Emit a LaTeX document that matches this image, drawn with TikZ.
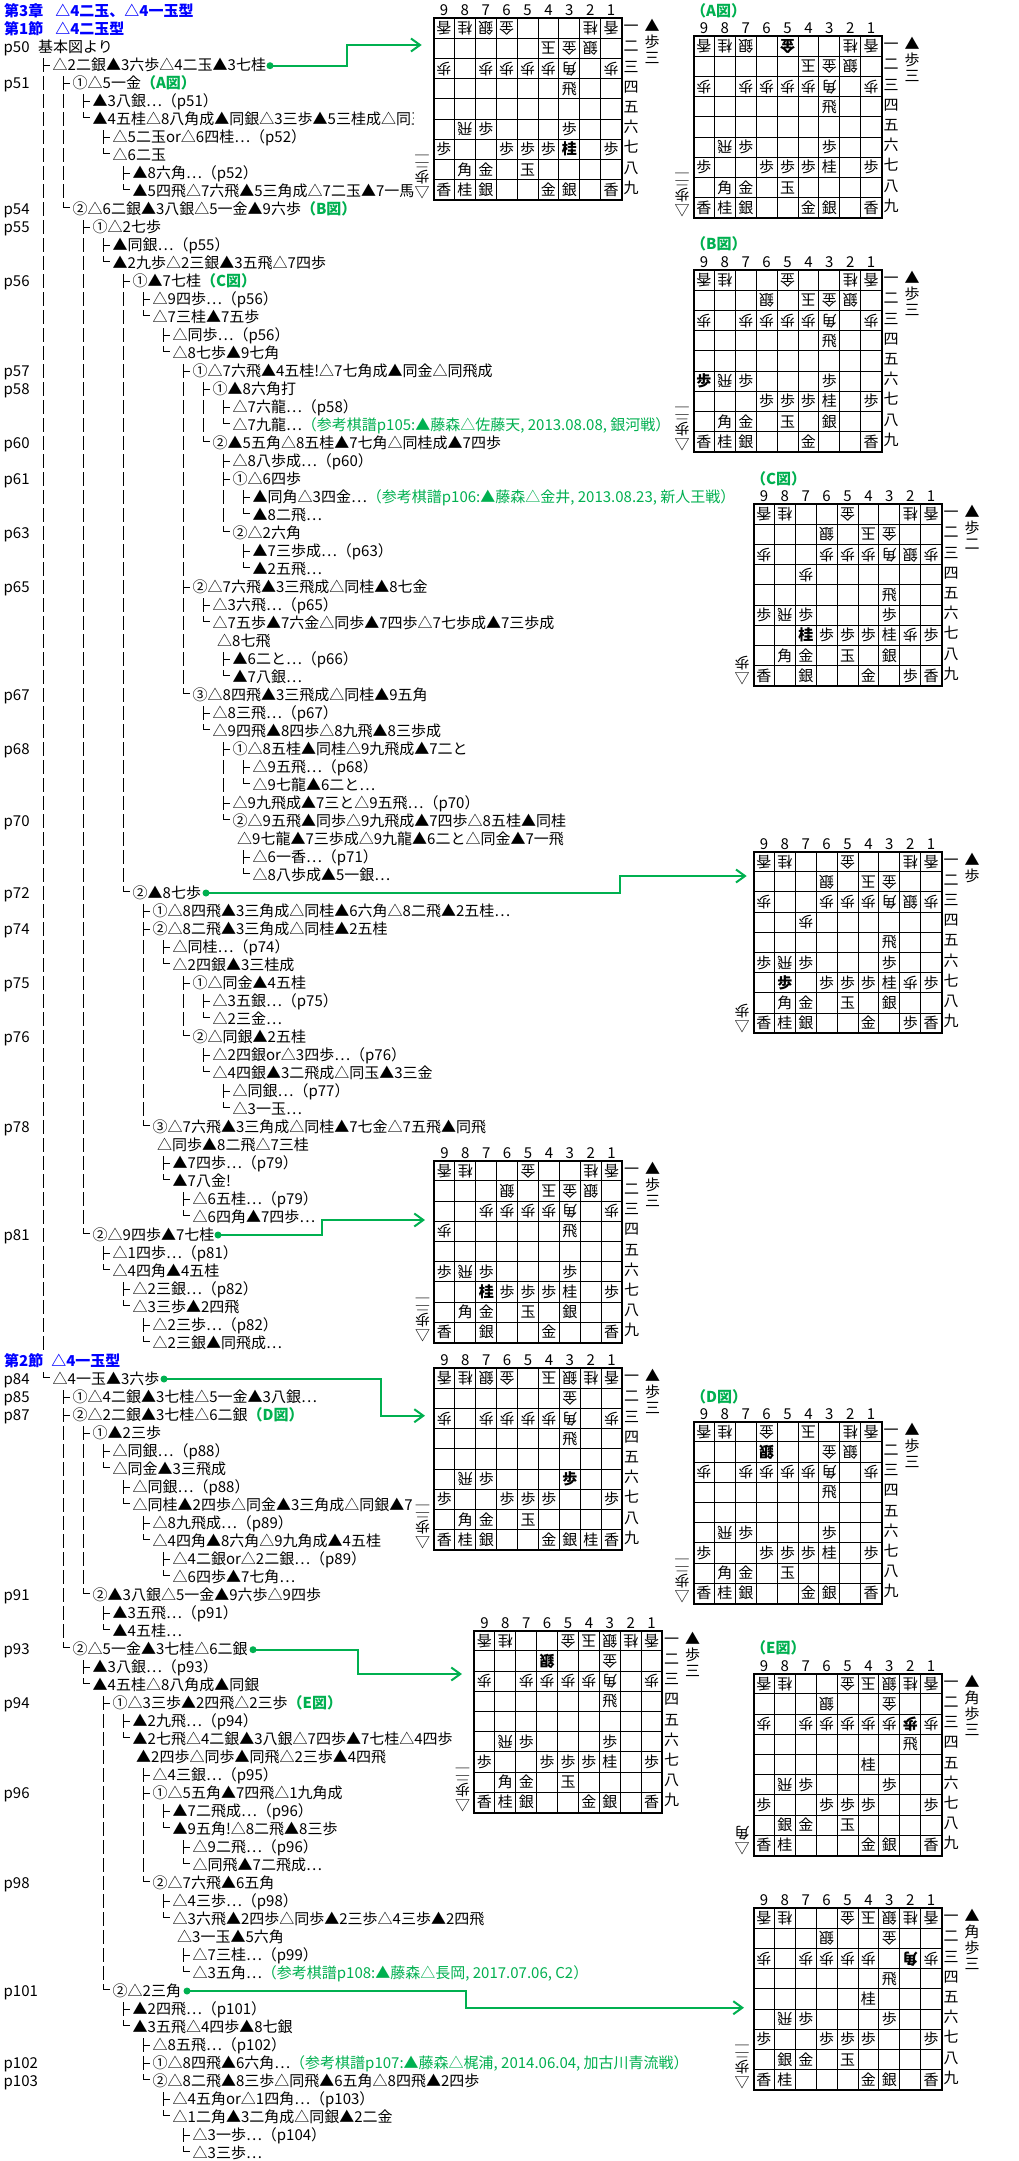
\documentclass[tikz,border=0pt]{standalone}
\usepackage{fontspec}
\setmainfont{Noto Sans CJK JP}
\usetikzlibrary{arrows.meta}
\definecolor{gr}{HTML}{00B050}
\newcounter{bd}
\tikzset{
 tx/.style={anchor=base west,inner sep=0pt,font=\fontsize{15}{15}\selectfont},
 pgl/.style={tx},
 hd/.style={tx,text=blue,font=\fontsize{15}{15}\selectfont\bfseries},
 tr/.style={line width=1pt},
 bar/.style={line width=1pt,dash pattern=on 14pt off 4pt},
 lab/.style={inner sep=0pt,text height=13pt,text depth=2pt,font=\fontsize{15}{15}\selectfont},
 ps/.style={lab},
 pb/.style={lab,font=\fontsize{15}{15}\selectfont\bfseries},
 pg/.style={lab,rotate=180},
 pgb/.style={lab,rotate=180,font=\fontsize{15}{15}\selectfont\bfseries},
 gridl/.style={line width=1pt},
 frame/.style={line width=2pt},
 glink/.style={draw=gr,line width=2pt,-{Straight Barb[length=9pt,width=13pt]}},
 gdot/.style={circle,fill=gr,inner sep=0pt,minimum size=7pt},
 captxt/.style={tx,text=gr,font=\fontsize{15}{15}\selectfont\bfseries},
}
\newcommand\gt[1]{\textcolor{gr}{#1}}
\newcommand\gb[1]{\textcolor{gr}{\bfseries #1}}
\newcommand\sq[1]{\scalebox{1}[.5]{#1}}
% row helpers
\newcommand\Pg[2]{\node[pgl] (p#1) at (3.5,{11+18*#1+5.5}) {#2};}
\newcommand\Tx[3]{\node[tx] (r#1) at (#2,{11+18*#1+5.5}) {#3};}
\newcommand\Tt[3]{\node[tx] (r#1) at ({#2+9},{11+18*#1+5.5}) {#3};
 \draw[tr] (#2,{11+18*#1-7}) -- (#2,{11+18*#1+7});
 \draw[tr] (#2,{11+18*#1}) -- ([shift={(-3,-5.5)}]r#1.base west);}
\newcommand\Lt[3]{\node[tx] (r#1) at ({#2+9},{11+18*#1+5.5}) {#3};
 \draw[tr] (#2,{11+18*#1-7}) -- (#2,{11+18*#1-2}) -- ([shift={(-3,-7.5)}]r#1.base west);}
\newcommand\Vb[3]{\draw[bar] (#1,{11+18*#2-7}) -- (#1,{11+18*#3+7});}
% board
\newcommand\pcs[2]{\foreach \c/\r/\k in {#2} \node[#1] at ({(9-\c+0.5)*20.9},{(\r-0.5)*20.2}) {\k};}
\newcommand\brd[5]{\stepcounter{bd}\begin{scope}[shift={(#2,#3)}]
 \foreach \i in {1,...,8} {\draw[gridl] ({\i*20.9},0) -- ({\i*20.9},181.8); \draw[gridl] (0,{\i*20.2}) -- (188.1,{\i*20.2});}
 \draw[frame] (0,0) rectangle (188.1,181.8);
 \foreach \c [count=\i] in {9,8,7,6,5,4,3,2,1} \node[lab] (b\arabic{bd}c\c) at ({(\i-0.5)*20.9},-8) {\c};
 \foreach \k [count=\i] in {一,二,三,四,五,六,七,八,九} \node[lab] (b\arabic{bd}r\i) at (197.7,{(\i-0.5)*20.2-2}) {\k};
 \foreach \y/\k in {#4} \node[ps] at (218.5,\y) {\k};
 \foreach \y/\k in {#5} \node[pg] at (-11.5,\y) {\k};
 #1
 \end{scope}}
\begin{document}
\begin{tikzpicture}[x=1pt,y=-1pt]
\path[use as bounding box,fill=white] (0,0) rectangle (1018,2161);
% headings
\node[hd] (h0) at (4,16.5) {第3章\hspace{12pt}△4二玉、△4一玉型};
\node[hd] (h1) at (4,34.5) {第1節\hspace{12pt}△4二玉型};
\node[hd] (h2) at (4,1366.5) {第2節\hspace{8pt}△4一玉型};
% page labels
\Pg{2}{p50}\Pg{4}{p51}\Pg{11}{p54}\Pg{12}{p55}\Pg{15}{p56}\Pg{20}{p57}\Pg{21}{p58}\Pg{24}{p60}\Pg{26}{p61}\Pg{29}{p63}\Pg{32}{p65}\Pg{38}{p67}\Pg{41}{p68}\Pg{45}{p70}\Pg{49}{p72}\Pg{51}{p74}\Pg{54}{p75}\Pg{57}{p76}\Pg{62}{p78}\Pg{68}{p81}\Pg{76}{p84}\Pg{77}{p85}\Pg{78}{p87}\Pg{88}{p91}\Pg{91}{p93}\Pg{94}{p94}\Pg{99}{p96}\Pg{104}{p98}\Pg{110}{p101}\Pg{114}{p102}\Pg{115}{p103}
% tree
\Tx{2}{38}{基本図より}
\Tt{3}{43.5}{△2二銀▲3六歩△4二玉▲3七桂}
\Tt{4}{63.5}{①△5一金\gb{（A図）}}
\Tt{5}{83.5}{▲3八銀…（p51）}
\begin{scope}\clip (0,110) rectangle (413,128);
\Lt{6}{83.5}{▲4五桂△8八角成▲同銀△3三歩▲5三桂成△同玉}
\end{scope}
\Tt{7}{103.5}{△5二玉or△6四桂…（p52）}
\Lt{8}{103.5}{△6二玉}
\Tt{9}{123.5}{▲8六角…（p52）}
\begin{scope}\clip (0,182) rectangle (414,200);
\Lt{10}{123.5}{▲5四飛△7六飛▲5三角成△7二玉▲7一馬…}
\end{scope}
\Lt{11}{63.5}{②△6二銀▲3八銀△5一金▲9六歩\gb{（B図）}}
\Tt{12}{83.5}{①△2七歩}
\Tt{13}{103.5}{▲同銀…（p55）}
\Lt{14}{103.5}{▲2九歩△2三銀▲3五飛△7四歩}
\Tt{15}{123.5}{①▲7七桂\gb{（C図）}}
\Tt{16}{143.5}{△9四歩…（p56）}
\Lt{17}{143.5}{△7三桂▲7五歩}
\Tt{18}{163.5}{△同歩…（p56）}
\Lt{19}{163.5}{△8七歩▲9七角}
\Tt{20}{183.5}{①△7六飛▲4五桂!△7七角成▲同金△同飛成}
\Tt{21}{203.5}{①▲8六角打}
\Tt{22}{223.5}{△7六龍…（p58）}
\Lt{23}{223.5}{△7九龍…\gt{（参考棋譜p105:▲藤森△佐藤天, 2013.08.08, 銀河戦）}}
\Lt{24}{203.5}{②▲5五角△8五桂▲7七角△同桂成▲7四歩}
\Tt{25}{223.5}{△8八歩成…（p60）}
\Tt{26}{223.5}{①△6四歩}
\Tt{27}{243.5}{▲同角△3四金…\gt{（参考棋譜p106:▲藤森△金井, 2013.08.23, 新人王戦）}}
\Lt{28}{243.5}{▲8二飛…}
\Lt{29}{223.5}{②△2六角}
\Tt{30}{243.5}{▲7三歩成…（p63）}
\Lt{31}{243.5}{▲2五飛…}
\Tt{32}{183.5}{②△7六飛▲3三飛成△同桂▲8七金}
\Tt{33}{203.5}{△3六飛…（p65）}
\Lt{34}{203.5}{△7五歩▲7六金△同歩▲7四歩△7七歩成▲7三歩成}
\Tx{35}{217}{△8七飛}
\Tt{36}{223.5}{▲6二と…（p66）}
\Lt{37}{223.5}{▲7八銀…}
\Lt{38}{183.5}{③△8四飛▲3三飛成△同桂▲9五角}
\Tt{39}{203.5}{△8三飛…（p67）}
\Lt{40}{203.5}{△9四飛▲8四歩△8九飛▲8三歩成}
\Tt{41}{223.5}{①△8五桂▲同桂△9九飛成▲7二と}
\Tt{42}{243.5}{△9五飛…（p68）}
\Lt{43}{243.5}{△9七龍▲6二と…}
\Tt{44}{223.5}{△9九飛成▲7三と△9五飛…（p70）}
\Lt{45}{223.5}{②△9五飛▲同歩△9九飛成▲7四歩△8五桂▲同桂}
\Tx{46}{237}{△9七龍▲7三歩成△9九龍▲6二と△同金▲7一飛}
\Tt{47}{243.5}{△6一香…（p71）}
\Lt{48}{243.5}{△8八歩成▲5一銀…}
\Lt{49}{123.5}{②▲8七歩}
\Tt{50}{143.5}{①△8四飛▲3三角成△同桂▲6六角△8二飛▲2五桂…}
\Tt{51}{143.5}{②△8二飛▲3三角成△同桂▲2五桂}
\Tt{52}{163.5}{△同桂…（p74）}
\Lt{53}{163.5}{△2四銀▲3三桂成}
\Tt{54}{183.5}{①△同金▲4五桂}
\Tt{55}{203.5}{△3五銀…（p75）}
\Lt{56}{203.5}{△2三金…}
\Lt{57}{183.5}{②△同銀▲2五桂}
\Tt{58}{203.5}{△2四銀or△3四歩…（p76）}
\Lt{59}{203.5}{△4四銀▲3二飛成△同玉▲3三金}
\Tt{60}{223.5}{△同銀…（p77）}
\Lt{61}{223.5}{△3一玉…}
\Lt{62}{143.5}{③△7六飛▲3三角成△同桂▲7七金△7五飛▲同飛}
\Tx{63}{157}{△同歩▲8二飛△7三桂}
\Tt{64}{163.5}{▲7四歩…（p79）}
\Lt{65}{163.5}{▲7八金!}
\Tt{66}{183.5}{△6五桂…（p79）}
\Lt{67}{183.5}{△6四角▲7四歩…}
\Lt{68}{83.5}{②△9四歩▲7七桂}
\Tt{69}{103.5}{△1四歩…（p81）}
\Lt{70}{103.5}{△4四角▲4五桂}
\Tt{71}{123.5}{△2三銀…（p82）}
\Lt{72}{123.5}{△3三歩▲2四飛}
\Tt{73}{143.5}{△2三歩…（p82）}
\Lt{74}{143.5}{△2三銀▲同飛成…}
\Lt{76}{43.5}{△4一玉▲3六歩}
\Tt{77}{63.5}{①△4二銀▲3七桂△5一金▲3八銀…}
\Tt{78}{63.5}{②△2二銀▲3七桂△6二銀\gb{（D図）}}
\Tt{79}{83.5}{①▲2三歩}
\Tt{80}{103.5}{△同銀…（p88）}
\Lt{81}{103.5}{△同金▲3三飛成}
\Tt{82}{123.5}{△同銀…（p88）}
\begin{scope}\clip (0,1496) rectangle (413,1514);
\Lt{83}{123.5}{△同桂▲2四歩△同金▲3三角成△同銀▲7…}
\end{scope}
\Tt{84}{143.5}{△8九飛成…（p89）}
\Lt{85}{143.5}{△4四角▲8六角△9九角成▲4五桂}
\Tt{86}{163.5}{△4二銀or△2二銀…（p89）}
\Lt{87}{163.5}{△6四歩▲7七角…}
\Lt{88}{83.5}{②▲3八銀△5一金▲9六歩△9四歩}
\Tt{89}{103.5}{▲3五飛…（p91）}
\Lt{90}{103.5}{▲4五桂…}
\Lt{91}{63.5}{②△5一金▲3七桂△6二銀}
\Tt{92}{83.5}{▲3八銀…（p93）}
\Lt{93}{83.5}{▲4五桂△8八角成▲同銀}
\Tt{94}{103.5}{①△3三歩▲2四飛△2三歩\gb{（E図）}}
\Tt{95}{123.5}{▲2九飛…（p94）}
\Lt{96}{123.5}{▲2七飛△4二銀▲3八銀△7四歩▲7七桂△4四歩}
\Tx{97}{136}{▲2四歩△同歩▲同飛△2三歩▲4四飛}
\Tt{98}{143.5}{△4三銀…（p95）}
\Tt{99}{143.5}{①△5五角▲7四飛△1九角成}
\Tt{100}{163.5}{▲7二飛成…（p96）}
\Lt{101}{163.5}{▲9五角!△8二飛▲8三歩}
\Tt{102}{183.5}{△9二飛…（p96）}
\Lt{103}{183.5}{△同飛▲7二飛成…}
\Lt{104}{143.5}{②△7六飛▲6五角}
\Tt{105}{163.5}{△4三歩…（p98）}
\Lt{106}{163.5}{△3六飛▲2四歩△同歩▲2三歩△4三歩▲2四飛}
\Tx{107}{177}{△3一玉▲5六角}
\Tt{108}{183.5}{△7三桂…（p99）}
\Lt{109}{183.5}{△3五角…\gt{（参考棋譜p108:▲藤森△長岡, 2017.07.06, C2）}}
\Lt{110}{103.5}{②△2三角}
\Tt{111}{123.5}{▲2四飛…（p101）}
\Lt{112}{123.5}{▲3五飛△4四歩▲8七銀}
\Tt{113}{143.5}{△8五飛…（p102）}
\Tt{114}{143.5}{①△8四飛▲6六角…\gt{（参考棋譜p107:▲藤森△梶浦, 2014.06.04, 加古川青流戦）}}
\Lt{115}{143.5}{②△8二飛▲8三歩△同飛▲6五角△8四飛▲2四歩}
\Tt{116}{163.5}{△4五角or△1四角…（p103）}
\Lt{117}{163.5}{△1二角▲3二角成△同銀▲2二金}
\Tt{118}{183.5}{△3一歩…（p104）}
\Lt{119}{183.5}{△3三歩…}
% vertical bars
\Vb{43.5}{4}{74}
\Vb{63.5}{5}{10}\Vb{63.5}{79}{90}
\Vb{83.5}{13}{67}\Vb{83.5}{80}{87}
\Vb{103.5}{95}{109}
\Vb{123.5}{16}{48}
\Vb{143.5}{52}{61}\Vb{143.5}{100}{103}
\Vb{183.5}{21}{31}\Vb{183.5}{33}{37}\Vb{183.5}{55}{56}
\Vb{203.5}{22}{23}
\Vb{223.5}{27}{28}\Vb{223.5}{42}{43}
% boards
\brd{\pcs{pg}{9/1/香,8/1/桂,7/1/銀,6/1/金,2/1/桂,1/1/香,4/2/玉,3/2/金,2/2/銀,9/3/歩,7/3/歩,6/3/歩,5/3/歩,4/3/歩,3/3/角,1/3/歩,8/6/飛}
 \pcs{ps}{3/4/飛,7/6/歩,3/6/歩,9/7/歩,6/7/歩,5/7/歩,4/7/歩,1/7/歩,8/8/角,7/8/金,5/8/玉,9/9/香,8/9/桂,7/9/銀,4/9/金,3/9/銀,1/9/香}
 \pcs{pb}{3/7/桂}}{433.5}{18}{8/▲,24/歩,40/三}{174/△,159/歩,150.3/\sq{二},139.8/\sq{一}}
\brd{\pcs{pg}{9/1/香,8/1/桂,7/1/銀,2/1/桂,1/1/香,4/2/玉,3/2/金,2/2/銀,9/3/歩,7/3/歩,6/3/歩,5/3/歩,4/3/歩,3/3/角,1/3/歩,8/6/飛}
 \pcs{pgb}{5/1/金}
 \pcs{ps}{3/4/飛,7/6/歩,3/6/歩,9/7/歩,6/7/歩,5/7/歩,4/7/歩,3/7/桂,1/7/歩,8/8/角,7/8/金,5/8/玉,9/9/香,8/9/桂,7/9/銀,4/9/金,3/9/銀,1/9/香}}{693.5}{36}{8/▲,24/歩,40/三}{174/△,159/歩,150.3/\sq{二},139.8/\sq{一}}
\brd{\pcs{pg}{9/1/香,8/1/桂,5/1/金,2/1/桂,1/1/香,6/2/銀,4/2/玉,3/2/金,2/2/銀,9/3/歩,7/3/歩,6/3/歩,5/3/歩,4/3/歩,3/3/角,1/3/歩,8/6/飛}
 \pcs{ps}{3/4/飛,7/6/歩,3/6/歩,6/7/歩,5/7/歩,4/7/歩,3/7/桂,1/7/歩,8/8/角,7/8/金,5/8/玉,3/8/銀,9/9/香,8/9/桂,7/9/銀,4/9/金,1/9/香}
 \pcs{pb}{9/6/歩}}{693.5}{270}{8/▲,24/歩,40/三}{174/△,159/歩,150.3/\sq{二},139.8/\sq{一}}
\brd{\pcs{pg}{9/1/香,8/1/桂,5/1/金,2/1/桂,1/1/香,6/2/銀,4/2/玉,3/2/金,9/3/歩,6/3/歩,5/3/歩,4/3/歩,3/3/角,2/3/銀,1/3/歩,7/4/歩,8/6/飛,2/7/歩}
 \pcs{ps}{3/5/飛,9/6/歩,7/6/歩,3/6/歩,6/7/歩,5/7/歩,4/7/歩,3/7/桂,1/7/歩,8/8/角,7/8/金,5/8/玉,3/8/銀,9/9/香,7/9/銀,4/9/金,2/9/歩,1/9/香}
 \pcs{pb}{7/7/桂}}{753.5}{504}{8/▲,24/歩,40/二}{174/△,159/歩}
\brd{\pcs{pg}{9/1/香,8/1/桂,5/1/金,2/1/桂,1/1/香,6/2/銀,4/2/玉,3/2/金,9/3/歩,6/3/歩,5/3/歩,4/3/歩,3/3/角,2/3/銀,1/3/歩,7/4/歩,8/6/飛,2/7/歩}
 \pcs{ps}{3/5/飛,9/6/歩,7/6/歩,3/6/歩,6/7/歩,5/7/歩,4/7/歩,3/7/桂,1/7/歩,8/8/角,7/8/金,5/8/玉,3/8/銀,9/9/香,8/9/桂,7/9/銀,4/9/金,2/9/歩,1/9/香}
 \pcs{pb}{8/7/歩}}{753.5}{851.5}{8/▲,24/歩}{174/△,159/歩}
\brd{\pcs{pg}{9/1/香,8/1/桂,5/1/金,2/1/桂,1/1/香,6/2/銀,4/2/玉,3/2/金,2/2/銀,7/3/歩,6/3/歩,5/3/歩,4/3/歩,3/3/角,1/3/歩,9/4/歩,8/6/飛}
 \pcs{ps}{3/4/飛,9/6/歩,7/6/歩,3/6/歩,6/7/歩,5/7/歩,4/7/歩,3/7/桂,1/7/歩,8/8/角,7/8/金,5/8/玉,3/8/銀,9/9/香,7/9/銀,4/9/金,1/9/香}
 \pcs{pb}{7/7/桂}}{434}{1160.7}{8/▲,24/歩,40/三}{174/△,159/歩,150.3/\sq{二},139.8/\sq{一}}
\brd{\pcs{pg}{9/1/香,8/1/桂,7/1/銀,6/1/金,4/1/玉,3/1/銀,2/1/桂,1/1/香,3/2/金,9/3/歩,7/3/歩,6/3/歩,5/3/歩,4/3/歩,3/3/角,1/3/歩,8/6/飛}
 \pcs{ps}{3/4/飛,7/6/歩,9/7/歩,6/7/歩,5/7/歩,4/7/歩,1/7/歩,8/8/角,7/8/金,5/8/玉,9/9/香,8/9/桂,7/9/銀,4/9/金,3/9/銀,2/9/桂,1/9/香}
 \pcs{pb}{3/6/歩}}{434}{1368}{8/▲,24/歩,40/三}{174/△,159/歩,150.3/\sq{二},139.8/\sq{一}}
\brd{\pcs{pg}{9/1/香,8/1/桂,6/1/金,4/1/玉,2/1/桂,1/1/香,3/2/金,2/2/銀,9/3/歩,7/3/歩,6/3/歩,5/3/歩,4/3/歩,3/3/角,1/3/歩,8/6/飛}
 \pcs{pgb}{6/2/銀}
 \pcs{ps}{3/4/飛,7/6/歩,3/6/歩,9/7/歩,6/7/歩,5/7/歩,4/7/歩,3/7/桂,1/7/歩,8/8/角,7/8/金,5/8/玉,9/9/香,8/9/桂,7/9/銀,4/9/金,3/9/銀,1/9/香}}{693.5}{1421.7}{8/▲,24/歩,40/三}{174/△,159/歩,150.3/\sq{二},139.8/\sq{一}}
\brd{\pcs{pg}{9/1/香,8/1/桂,5/1/金,4/1/玉,3/1/銀,2/1/桂,1/1/香,3/2/金,9/3/歩,7/3/歩,6/3/歩,5/3/歩,4/3/歩,3/3/角,1/3/歩,8/6/飛}
 \pcs{pgb}{6/2/銀}
 \pcs{ps}{3/4/飛,7/6/歩,3/6/歩,9/7/歩,6/7/歩,5/7/歩,4/7/歩,3/7/桂,1/7/歩,8/8/角,7/8/金,5/8/玉,9/9/香,8/9/桂,7/9/銀,4/9/金,3/9/銀,1/9/香}}{474}{1630.7}{8/▲,24/歩,40/三}{174/△,159/歩,150.3/\sq{二},139.8/\sq{一}}
\brd{\pcs{pg}{9/1/香,8/1/桂,5/1/金,4/1/玉,3/1/銀,2/1/桂,1/1/香,6/2/銀,3/2/金,9/3/歩,7/3/歩,6/3/歩,5/3/歩,4/3/歩,3/3/歩,1/3/歩,8/6/飛}
 \pcs{pgb}{2/3/歩}
 \pcs{ps}{2/4/飛,4/5/桂,7/6/歩,3/6/歩,9/7/歩,6/7/歩,5/7/歩,4/7/歩,1/7/歩,8/8/銀,7/8/金,5/8/玉,9/9/香,8/9/桂,4/9/金,3/9/銀,1/9/香}}{753.5}{1673.7}{8/▲,24/角,40/歩,56/三}{174/△,159/角}
\brd{\pcs{pg}{9/1/香,8/1/桂,5/1/金,4/1/玉,3/1/銀,2/1/桂,1/1/香,6/2/銀,3/2/金,9/3/歩,7/3/歩,6/3/歩,5/3/歩,4/3/歩,1/3/歩,8/6/飛}
 \pcs{pgb}{2/3/角}
 \pcs{ps}{3/4/飛,4/5/桂,7/6/歩,3/6/歩,9/7/歩,6/7/歩,5/7/歩,4/7/歩,1/7/歩,8/8/銀,7/8/金,5/8/玉,9/9/香,8/9/桂,4/9/金,3/9/銀,1/9/香}}{753.5}{1908}{8/▲,24/角,40/歩,56/三}{174/△,159/歩,150.3/\sq{二},139.8/\sq{一}}
% captions
\node[captxt] (capA) at (691,16.5) {（A図）};
\node[captxt] (capB) at (691,249.5) {（B図）};
\node[captxt] (capC) at (751,484) {（C図）};
\node[captxt] (capD) at (691,1402.5) {（D図）};
\node[captxt] (capE) at (751,1653.5) {（E図）};
% green links
\node[gdot] (d1) at (270,65.7) {};
\coordinate (a1) at (346.7,65.7); \coordinate (b1) at (346.7,45); \coordinate (t1) at (421.7,45);
\draw[glink] (d1.center) -- (a1) -- (b1) -- (t1);
\node[gdot] (d2) at (206,893) {};
\coordinate (a2) at (619.6,893); \coordinate (b2) at (619.6,876); \coordinate (t2) at (746.7,876);
\draw[glink] (d2.center) -- (a2) -- (b2) -- (t2);
\node[gdot] (d3) at (218,1235) {};
\coordinate (a3) at (322,1235); \coordinate (b3) at (322,1220); \coordinate (t3) at (425,1220);
\draw[glink] (d3.center) -- (a3) -- (b3) -- (t3);
\node[gdot] (d4) at (164,1379) {};
\coordinate (a4) at (381,1379); \coordinate (b4) at (381,1415.7); \coordinate (t4) at (425,1415.7);
\draw[glink] (d4.center) -- (a4) -- (b4) -- (t4);
\node[gdot] (d5) at (253,1649.7) {};
\coordinate (a5) at (358,1649.7); \coordinate (b5) at (358,1674); \coordinate (t5) at (462,1674);
\draw[glink] (d5.center) -- (a5) -- (b5) -- (t5);
\node[gdot] (d6) at (187,1991) {};
\coordinate (a6) at (465.6,1991); \coordinate (b6) at (465.6,2007.7); \coordinate (t6) at (744,2007.7);
\draw[glink] (d6.center) -- (a6) -- (b6) -- (t6);
\end{tikzpicture}
\end{document}
